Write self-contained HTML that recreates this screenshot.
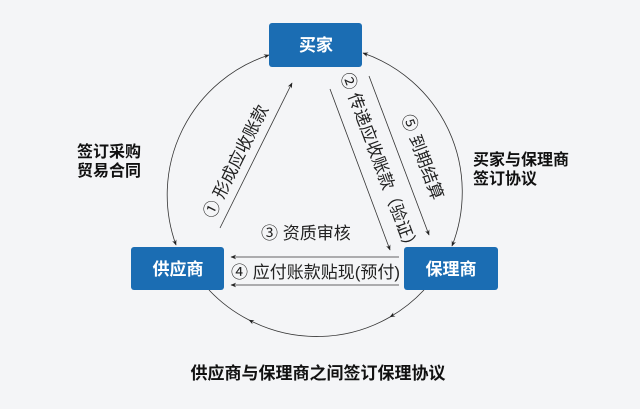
<!DOCTYPE html>
<html><head><meta charset="utf-8"><style>
html,body{margin:0;padding:0;background:#f4f5f7;}
svg{display:block}
text{font-family:"Liberation Sans","Noto Sans CJK SC",sans-serif;}
</style></head><body>
<svg width="640" height="409" viewBox="0 0 640 409" xmlns="http://www.w3.org/2000/svg">
<defs>
<marker id="a" viewBox="0 0 10 10" refX="9" refY="5" markerWidth="7" markerHeight="7" orient="auto-start-reverse"><path d="M0,1 L10,5 L0,9 L3,5 Z" fill="#222"/></marker>
</defs>
<rect width="640" height="409" fill="#f4f5f7"/>
<g fill="none" stroke="#333" stroke-width="0.8">
<path d="M176,245 A147,147 0 0 1 269,55" marker-start="url(#a)" marker-end="url(#a)"/>
<path d="M363,53 A147,147 0 0 1 452,246" marker-start="url(#a)" marker-end="url(#a)"/>
<path d="M424,290 A147,147 0 0 1 390,317" marker-end="url(#a)"/>
<path d="M390,317 A147,147 0 0 1 249,320" marker-end="url(#a)"/>
<path d="M249,320 A147,147 0 0 1 209,290"/>
<line x1="220" y1="228" x2="292" y2="83" marker-end="url(#a)"/>
<line x1="330" y1="89" x2="390" y2="250" marker-end="url(#a)"/>
<line x1="369" y1="76" x2="429" y2="235" marker-end="url(#a)"/>
<line x1="399" y1="257" x2="231" y2="257" marker-end="url(#a)"/>
<line x1="399" y1="285" x2="231" y2="285" marker-end="url(#a)"/>
</g>
<g fill="#1b6db3">
<rect x="269" y="23" width="93" height="44" rx="3"/>
<rect x="131" y="247" width="93" height="43" rx="3"/>
<rect x="404" y="247" width="94" height="43" rx="3"/>
</g>
<g fill="#fff" font-size="17" font-weight="bold" text-anchor="middle">
<text x="316" y="51">买家</text>
<text x="178" y="275">供应商</text>
<text x="451" y="275">保理商</text>
</g>
<g fill="#111" font-size="16" font-weight="bold">
<text x="77" y="157">签订采购</text>
<text x="77" y="176">贸易合同</text>
<text x="473" y="165">买家与保理商</text>
<text x="473" y="184">签订协议</text>
<text x="318" y="379" text-anchor="middle" font-size="17">供应商与保理商之间签订保理协议</text>
</g>
<g fill="#222" font-size="17">
<text x="261" y="239">③ 资质审核</text>
<text x="231" y="278">④ 应付账款贴现(预付)</text>
<text transform="translate(241,164) rotate(-63.5)" text-anchor="middle">① 形成应收账款</text>
<text transform="translate(374,165) rotate(69.5)" text-anchor="middle">② 传递应收账款（验证）</text>
<text transform="translate(417,159) rotate(69.5)" text-anchor="middle">⑤ 到期结算</text>
</g>
</svg>
</body></html>
